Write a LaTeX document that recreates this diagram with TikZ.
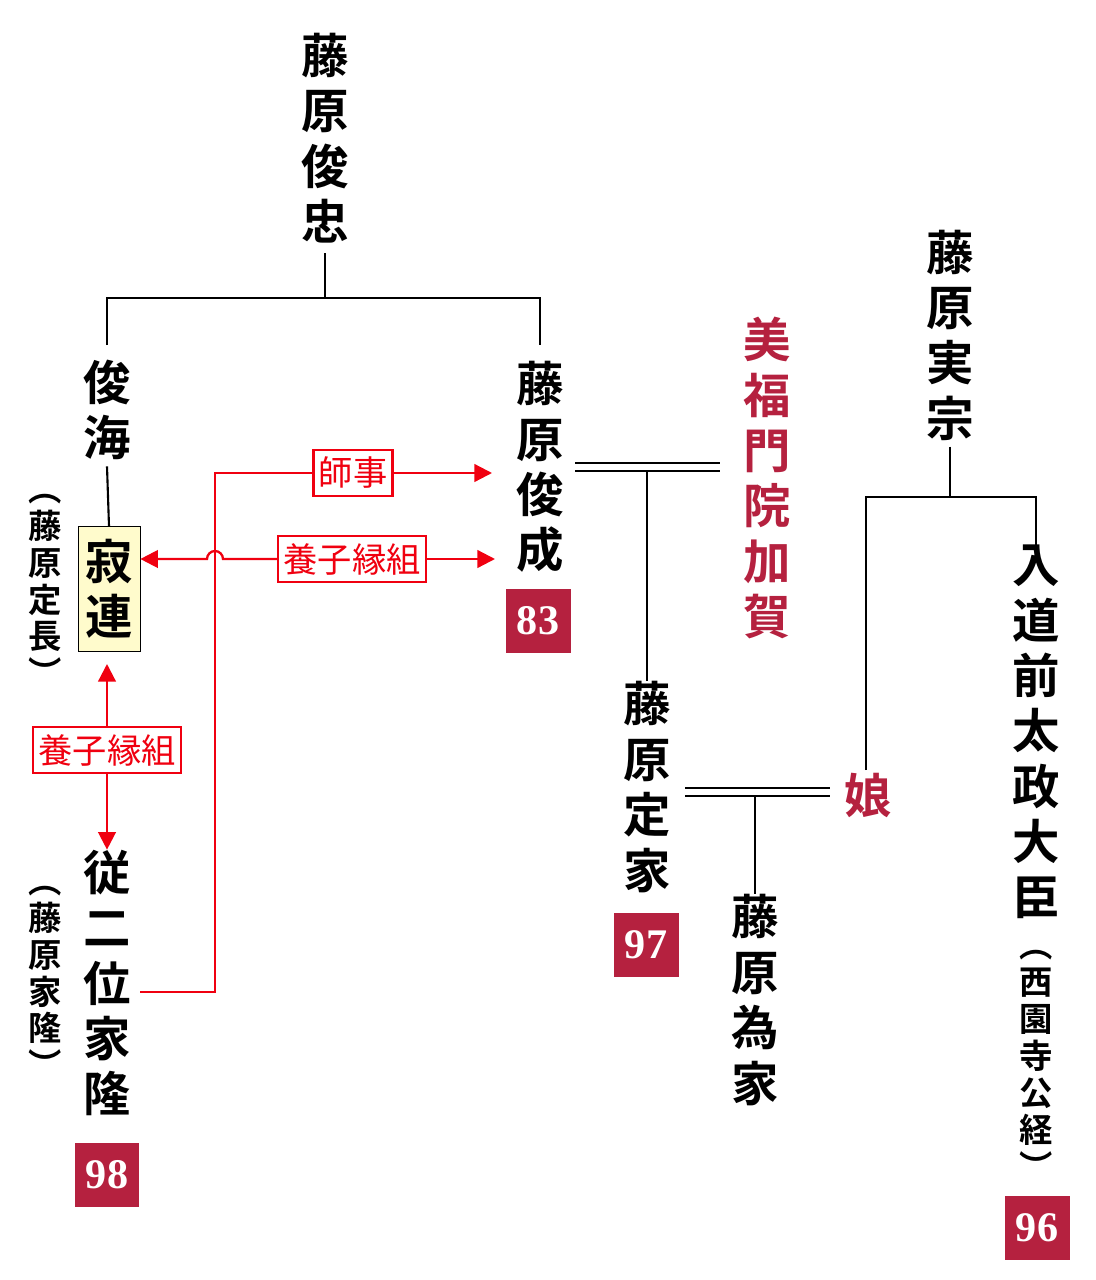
\documentclass[tikz,border=0pt]{standalone}
\usepackage{fontspec}
\newfontfamily\jpb{Noto Sans CJK JP Bold}
\newfontfamily\jpr{Noto Sans CJK JP}
\setmainfont{Liberation Serif}
\usetikzlibrary{arrows.meta,positioning}

\definecolor{crimson}{HTML}{B5213F}
\definecolor{labelred}{HTML}{F00010}
\definecolor{boxyellow}{HTML}{FFFBCC}

\tikzset{
  person/.style={font=\jpb\fontsize{27}{31.5}\selectfont, align=center, inner sep=0pt},
  wife/.style={person, text=crimson},
  alias/.style={font=\jpb\fontsize{19}{21}\selectfont, align=center, inner sep=0pt},
  poet/.style={fill=crimson, text=white, font=\bfseries\fontsize{24}{24}\selectfont,
    minimum width=1.3cm, minimum height=1.28cm, inner sep=0pt},
  role/.style={draw=labelred, line width=1.3pt, fill=white, text=labelred,
    font=\jpr\fontsize{19.5}{19.5}\selectfont, inner xsep=3pt, inner ysep=4pt},
  kin/.style={line width=1.2pt},
  tie/.style={labelred, line width=1.3pt},
  tip/.style={-{Triangle[length=10pt,width=10pt]}}
}

\begin{document}
\begin{tikzpicture}[x=0.02cm,y=-0.02cm]
    \useasboundingbox (0,0) rectangle (1095,1280);

    % People
    \node[person] (shuntada) at (325,138) {藤\\原\\俊\\忠};
    \node[person] (shunkai) at (107,410) {俊\\海};
    \node[person, draw, thin, fill=boxyellow, minimum width=1.24cm, minimum height=2.5cm] (jakuren) at (109,589) {寂\\連};
    \node[alias] (sadanaga) at (45,590) {︵\\藤\\原\\定\\長\\︶};
    \node[person] (ietaka) at (107,983) {従\\二\\位\\家\\隆};
    \node[alias] (ietaka2) at (45,982) {︵\\藤\\原\\家\\隆\\︶};
    \node[person] (shunzei) at (540,467) {藤\\原\\俊\\成};
    \node[wife] (kaga) at (767,478) {美\\福\\門\\院\\加\\賀};
    \node[person] (teika) at (647,787) {藤\\原\\定\\家};
    \node[wife] (musume) at (868,795) {娘};
    \node[person] (tameie) at (755,1000) {藤\\原\\為\\家};
    \node[person] (sanemune) at (950,335) {藤\\原\\実\\宗};
    \node[person] (kintsune) at (1036,732) {入\\道\\前\\太\\政\\大\\臣};
    \node[alias] (kintsune2) at (1036,1065) {︵\\西\\園\\寺\\公\\経\\︶};

    % Poem numbers
    \node[poet] (n83) at (538,621) {83};
    \node[poet] (n97) at (646,945) {97};
    \node[poet] (n98) at (107,1175) {98};
    \node[poet] (n96) at (1037,1228) {96};

    % Family lines
    \draw[kin] (shuntada.south) ++(0,10) -- (325,298) coordinate (fork);
    \draw[kin] (107,345) |- (fork) -| (540,345);
    \draw[kin] (shunkai.south) ++(0,6) -- (jakuren.north);
    \draw[kin] (575,463) -- (720,463);
    \draw[kin] (575,471) -- (720,471);
    \draw[kin] (647,471) -- (teika.north);
    \draw[kin] (685,788) -- (830,788);
    \draw[kin] (685,796) -- (830,796);
    \draw[kin] (755,796) -- (tameie.north);
    \draw[kin] (sanemune.south) ++(0,6) -- (950,497) coordinate (fork2);
    \draw[kin] (866,770) |- (fork2) -| (kintsune.north);

    % Adoption and teaching
    \node[role] (adopt1) at (107,750) {養子縁組};
    \draw[tie, tip] (adopt1.north) -- (107,664);
    \draw[tie, tip] (adopt1.south) -- (ietaka.north);
    \node[role] (shiji) at (353,473) {師事};
    \node[role] (adopt2) at (352,559) {養子縁組};
    \draw[tie] (140,992) -| (215,473) -- (shiji.west);
    \draw[tie, tip] (shiji.east) -- (492,473);
    \draw[tie, tip] (adopt2.west) -- (223,559) arc[start angle=0,end angle=-180,radius=8] -- (jakuren.east |- adopt2);
    \draw[tie, tip] (adopt2.east) -- (495,559);
\end{tikzpicture}
\end{document}
